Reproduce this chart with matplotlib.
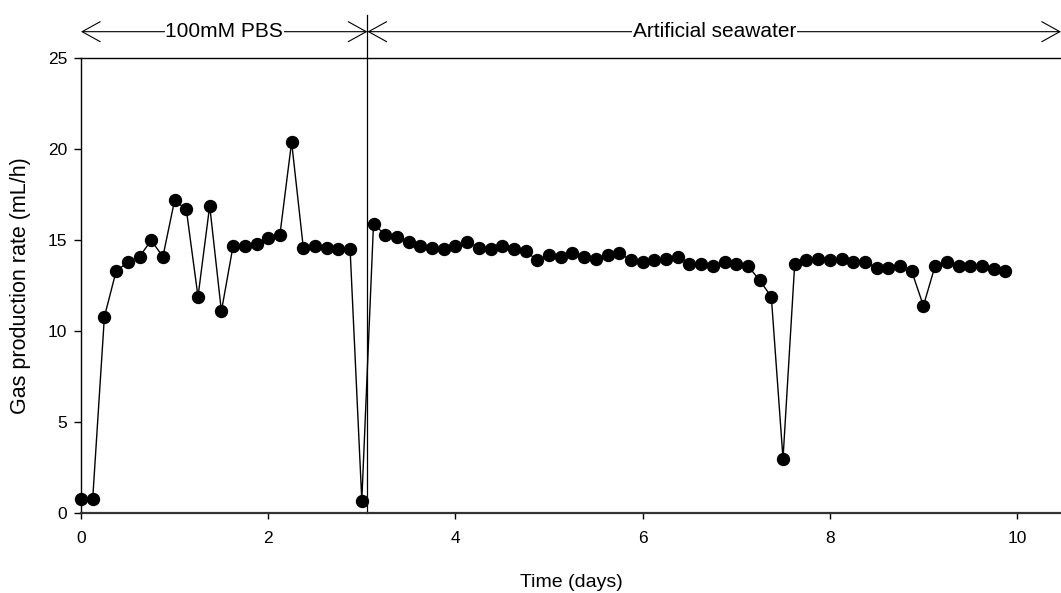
import numpy as np
import matplotlib
matplotlib.use("Agg")
import matplotlib.pyplot as plt

plt.rcParams['font.family'] = ['Liberation Sans', 'DejaVu Sans']

# sampling every 3 h (0.125 day)
time_days = np.arange(80) * 0.125
gas_rate = [0.8, 0.8, 10.8, 13.3, 13.8, 14.1, 15.0, 14.1, 17.2, 16.7,
            11.9, 16.9, 11.1, 14.7, 14.7, 14.8, 15.1, 15.3, 20.4, 14.6,
            14.7, 14.6, 14.5, 14.5, 0.7, 15.9, 15.3, 15.2, 14.9, 14.7,
            14.6, 14.5, 14.7, 14.9, 14.6, 14.5, 14.7, 14.5, 14.4, 13.9,
            14.2, 14.1, 14.3, 14.1, 14.0, 14.2, 14.3, 13.9, 13.8, 13.9,
            14.0, 14.1, 13.7, 13.7, 13.6, 13.8, 13.7, 13.6, 12.8, 11.9,
            3.0, 13.7, 13.9, 14.0, 13.9, 14.0, 13.8, 13.8, 13.5, 13.5,
            13.6, 13.3, 11.4, 13.6, 13.8, 13.6, 13.6, 13.6, 13.4, 13.3]

switch_day = 3.06
phase_labels = ["100mM PBS", "Artificial seawater"]
x_ticks = [0, 2, 4, 6, 8, 10]
y_ticks = [0, 5, 10, 15, 20, 25]
x_max = 10.47

fig = plt.figure(figsize=(10.61, 5.93), dpi=100)
ax = fig.add_axes([81/1061, 1-513.3/593, 1-81/1061, (513.3-58.3)/593])

ax.plot(time_days, gas_rate, color='black', lw=1, marker='o', ms=8.6,
        mfc='black', mec='black', clip_on=False, zorder=3)

ax.set_xlim(0, x_max)
ax.set_ylim(0, 25)
ax.set_xticks(x_ticks)
ax.set_yticks(y_ticks)
ax.tick_params(axis='both', direction='out', labelsize=12.5, color='black')
ax.tick_params(axis='x', length=4, width=1, pad=9)
ax.tick_params(axis='y', length=5, width=1, pad=5)
ax.spines['right'].set_visible(False)
ax.spines['bottom'].set_linewidth(1.6)
ax.spines['bottom'].set_color('#333333')
ax.spines['left'].set_linewidth(1)
ax.spines['top'].set_linewidth(1)

ax.set_xlabel("Time (days)", fontsize=14, labelpad=20)
ax.set_ylabel("Gas production rate (mL/h)", fontsize=15.5, labelpad=12)

# phase divider
ax.plot([switch_day, switch_day], [0, 1.095], color='black', lw=0.9,
        transform=ax.get_xaxis_transform(), clip_on=False)

# phase arrows
arrow_y = 1.0585
spans = [(0, switch_day), (switch_day, x_max)]
for (a, b), lab in zip(spans, phase_labels):
    ax.annotate('', xy=(a, arrow_y), xytext=(b, arrow_y),
                xycoords=ax.get_xaxis_transform(),
                textcoords=ax.get_xaxis_transform(),
                arrowprops=dict(arrowstyle='<->,head_length=1.3,head_width=0.72',
                                color='black', lw=0.8, shrinkA=0, shrinkB=0),
                annotation_clip=False)
    ax.text((a + b) / 2, arrow_y, lab, transform=ax.get_xaxis_transform(),
            ha='center', va='center', fontsize=15,
            bbox=dict(facecolor='white', edgecolor='none', pad=0.5))

fig.savefig("out.png", dpi=100)
